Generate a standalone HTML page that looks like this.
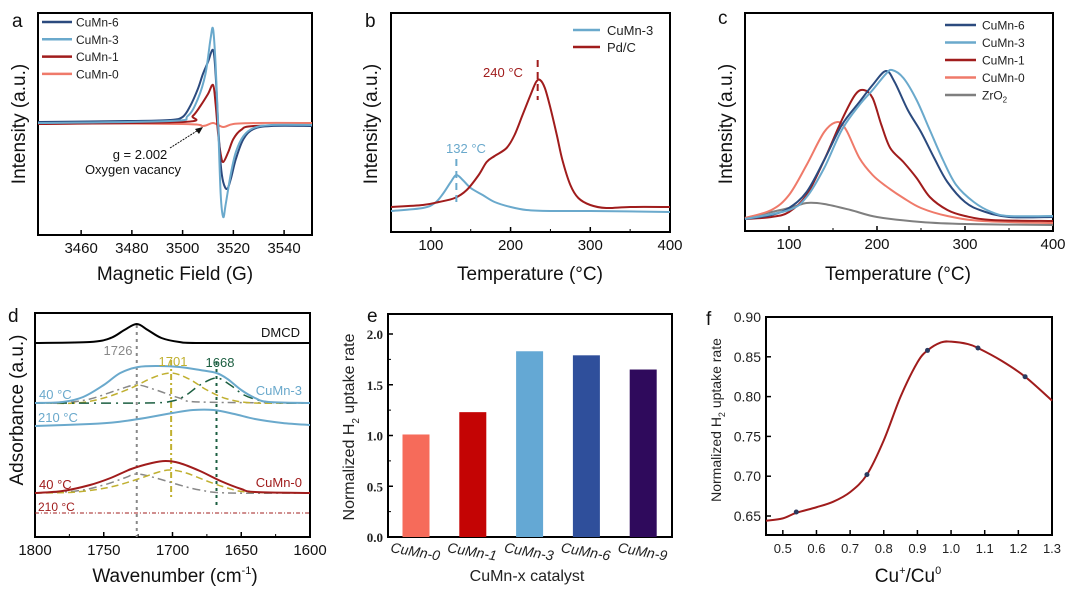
<!DOCTYPE html>
<html><head><meta charset="utf-8">
<style>
html,body{margin:0;padding:0;background:#fff;}
svg{display:block;font-family:"Liberation Sans",Arial,sans-serif;}
</style></head>
<body>
<svg id="fig" width="1077" height="591" viewBox="0 0 1077 591"></svg>
<script>
// ---------- Panel a: EPR ----------
const aSeriesNames=["CuMn-6","CuMn-3","CuMn-1","CuMn-0"];
const aColors=["#2b4a7e","#6aa9cc","#a01c1c","#ef7a6a"];
const aCuMn6=[[3443,2],[3480,3],[3495,4],[3500,7],[3503,18],[3506,35],[3508,50],[3510,62],[3512,74],[3513,50],[3514,0],[3515,-40],[3516,-58],[3517.5,-65],[3519,-55],[3521,-35],[3524,-15],[3528,-5],[3535,-2],[3551,-2]];
const aCuMn3=[[3443,1],[3495,3],[3502,8],[3506,25],[3509,50],[3511,85],[3512,95],[3513,60],[3514,0],[3515,-70],[3516,-93],[3517,-80],[3519,-50],[3521,-28],[3524,-12],[3528,-4],[3535,-1],[3551,-1]];
const aCuMn1=[[3443,0],[3500,2],[3504,8],[3507,18],[3510,30],[3512,39],[3513,20],[3514,-10],[3515,-30],[3516,-38],[3518,-28],[3520,-15],[3523,-6],[3528,-2],[3551,-1]];
const aCuMn0=[[3443,1],[3500,0],[3508,-2],[3512,1],[3516,-3],[3520,0],[3530,1],[3551,1]];
const aTicks=[3460,3480,3500,3520,3540];
// ---------- Panel b: H2-TPR ----------
const bSeriesNames=["CuMn-3","Pd/C"];
const bBlue=[[50,9],[90,12],[105,17],[115,26],[125,38],[132,45],[140,40],[150,32],[165,25],[180,18],[200,13],[220,10],[250,9],[300,9],[400,8]];
const bRed=[[50,13],[90,15],[110,18],[130,22],[145,30],[160,45],[170,58],[180,64],[195,72],[205,85],[215,105],[225,125],[232,138],[237,140],[243,132],[250,112],[258,85],[265,60],[275,35],[285,22],[300,15],[320,12],[350,13],[400,13]];
const tTicks=[100,200,300,400];
// ---------- Panel c ----------
const cSeriesNames=["CuMn-6","CuMn-3","CuMn-1","CuMn-0","ZrO2"];
const cColors=["#2b4a7e","#6aa9cc","#a01c1c","#ef7a6a","#7f7f7f"];
const cCuMn6=[[50,11],[80,15],[100,22],[120,38],[140,70],[160,105],[180,128],[195,145],[210,159],[220,148],[235,120],[250,98],[265,72],[280,48],[300,28],[320,19],[350,13],[400,13]];
const cCuMn3=[[50,11],[100,20],[120,33],[140,62],[160,100],[180,125],[195,140],[210,156],[217,160],[230,152],[245,130],[260,100],[275,70],[290,45],[310,28],[330,18],[350,14],[400,14]];
const cCuMn1=[[50,11],[80,13],[100,18],[120,35],[140,70],[160,110],[175,135],[185,140],[195,132],[205,105],[215,82],[230,68],[245,52],[260,33],[280,20],[300,14],[330,10],[400,9]];
const cCuMn0=[[50,12],[80,20],[100,35],[120,65],[140,98],[155,108],[165,100],[180,72],[195,55],[210,44],[230,32],[250,22],[280,14],[320,9],[400,7]];
const cZrO2=[[50,12],[100,22],[120,27],[140,26],[170,20],[200,13],[250,8],[300,6],[400,5]];
// ---------- Panel d: DRIFTS ----------
const dOffsets=[343,403,426,493,513];
const dDMCD=[[1800,0],[1760,1],[1745,5],[1735,13],[1726,19],[1718,13],[1708,5],[1695,1],[1680,0],[1600,0]];
const d3_40=[[1800,0],[1780,1],[1765,6],[1750,18],[1738,30],[1725,36],[1710,37],[1695,36],[1680,33],[1668,30],[1660,24],[1650,13],[1640,5],[1630,1],[1600,0]];
const d3_gray=[[1800,0],[1780,0],[1760,4],[1740,13],[1726,18],[1712,13],[1695,5],[1680,1],[1600,0]];
const d3_yel=[[1800,0],[1770,0],[1750,5],[1730,15],[1715,25],[1701,30],[1688,24],[1675,13],[1660,4],[1640,0],[1600,0]];
const d3_grn=[[1800,0],[1720,0],[1700,2],[1690,8],[1680,18],[1668,25],[1658,18],[1648,8],[1635,2],[1620,0],[1600,0]];
const d3_210=[[1800,0],[1760,2],[1740,4],[1720,8],[1700,13],[1685,16],[1670,16],[1655,12],[1640,7],[1620,3],[1600,1]];
const d0_40=[[1800,0],[1780,2],[1760,8],[1745,15],[1730,24],[1715,30],[1705,32],[1695,30],[1680,22],[1665,12],[1650,4],[1640,1],[1600,0]];
const d0_gray=[[1800,0],[1770,2],[1750,8],[1735,15],[1726,19],[1712,15],[1695,8],[1680,3],[1660,0],[1600,0]];
const d0_yel=[[1800,0],[1770,1],[1745,6],[1725,14],[1710,21],[1701,23],[1690,20],[1675,12],[1660,5],[1645,1],[1600,0]];
const d0_210=[[1800,0],[1600,0]];
const dPeaks=[1726,1701,1668];
const wTicks=[1800,1750,1700,1650,1600];
// ---------- Panel e: bars ----------
const eCategories=["CuMn-0","CuMn-1","CuMn-3","CuMn-6","CuMn-9"];
const eValues=[1.01,1.23,1.83,1.79,1.65];
const eColors=["#f66b5a","#c40404","#64a8d4","#2f4f9b","#2f0a5c"];
const eTicks=[0.0,0.5,1.0,1.5,2.0];
// ---------- Panel f ----------
const fX=[0.54,0.75,0.93,1.08,1.22];
const fY=[0.655,0.702,0.858,0.861,0.825];
const fFitX=[0.45,0.5,0.54,0.6,0.65,0.7,0.75,0.8,0.85,0.9,0.93,0.97,1.0,1.05,1.08,1.15,1.22,1.3];
const fFitY=[0.644,0.647,0.654,0.661,0.668,0.680,0.702,0.745,0.800,0.843,0.858,0.868,0.869,0.866,0.861,0.845,0.825,0.795];
const fXTicks=[0.5,0.6,0.7,0.8,0.9,1.0,1.1,1.2,1.3];
const fYTicks=[0.65,0.70,0.75,0.80,0.85,0.90];

const NS="http://www.w3.org/2000/svg";
const svg=document.getElementById('fig');
function el(tag,attrs,parent,text){const e=document.createElementNS(NS,tag);for(const k in attrs)e.setAttribute(k,attrs[k]);if(text!==undefined)e.textContent=text;(parent||svg).appendChild(e);return e;}
function lin(d0,d1,r0,r1){return v=>r0+(v-d0)*(r1-r0)/(d1-d0);}
function smooth(pts){let d=`M${pts[0][0].toFixed(2)},${pts[0][1].toFixed(2)}`;for(let i=0;i<pts.length-1;i++){const p0=pts[i-1]||pts[i],p1=pts[i],p2=pts[i+1],p3=pts[i+2]||p2;const c1=[p1[0]+(p2[0]-p0[0])/6,p1[1]+(p2[1]-p0[1])/6],c2=[p2[0]-(p3[0]-p1[0])/6,p2[1]-(p3[1]-p1[1])/6];d+=`C${c1[0].toFixed(2)},${c1[1].toFixed(2)} ${c2[0].toFixed(2)},${c2[1].toFixed(2)} ${p2[0].toFixed(2)},${p2[1].toFixed(2)}`;}return d;}
function curve(data,xs,ys,attrs,name,g){const p=el('path',Object.assign({d:smooth(data.map(q=>[xs(q[0]),ys(q[1])])),fill:'none'},attrs),g);


return p;}
function txt(x,y,s,attrs,name,g){const t=el('text',Object.assign({x:x,y:y},attrs),g,s);


return t;}
function frame(x0,y0,x1,y1,name,g){const r=el('rect',{x:x0,y:y0,width:x1-x0,height:y1-y0,fill:'none',stroke:'#000','stroke-width':2},g);

}
function group(name){const g=el('g',{});


return g;}
function xTicks(ticks,xs,yb,g,fs,lab,minor){ticks.forEach(t=>{el('line',{x1:xs(t),x2:xs(t),y1:yb,y2:yb-5,stroke:'#000','stroke-width':1.5},g);if(lab)txt(xs(t),yb+fs+3,lab(t),{'font-size':fs,'text-anchor':'middle',fill:'#111'},'x-tick-label',g);});}

// ===== Panel a =====
(function(){const g=group('panel-a-epr');
const xs=lin(3443,3551,38,312), ys=lin(-111,111,235,13);
frame(38,13,312,235,'plot-frame',g);
xTicks(aTicks,xs,235,g,15,t=>t);
[aCuMn0,aCuMn1,aCuMn6,aCuMn3].forEach((d,i)=>{const idx=[3,2,0,1][i];curve(d,xs,ys,{stroke:aColors[idx],'stroke-width':2},'epr-'+aSeriesNames[idx].toLowerCase(),g);});
aSeriesNames.forEach((n,i)=>{const y=22+i*17.3;el('line',{x1:42,x2:72,y1:y,y2:y,stroke:aColors[i],'stroke-width':2.5},g);txt(76,y+4.5,n,{'font-size':12,fill:'#222'},'legend-entry',g);});
txt(140,159,'g = 2.002',{'font-size':13,'text-anchor':'middle',fill:'#111'},'g-value-annotation',g);
txt(133,174,'Oxygen vacancy',{'font-size':13,'text-anchor':'middle',fill:'#111'},'oxygen-vacancy-label',g);
el('line',{x1:170,y1:148,x2:200,y2:129,stroke:'#111','stroke-width':1,'stroke-dasharray':'2,1'},g);
el('path',{d:'M203,127 L195,129 L199,134 Z',fill:'#111'},g);
txt(175,280,'Magnetic Field (G)',{'font-size':19,'text-anchor':'middle',fill:'#111'},'x-axis-title',g);
txt(0,0,'Intensity (a.u.)',{'font-size':19,'text-anchor':'middle',fill:'#111',transform:'translate(25,124) rotate(-90)'},'y-axis-title',g);
txt(12,27,'a',{'font-size':19,fill:'#111'},'panel-label',g);
})();

// ===== Panel b =====
(function(){const g=group('panel-b-tpr');
const xs=lin(50,400,391,670), ys=lin(0,220,220,0);
frame(391,13,670,232,'plot-frame',g);
xTicks(tTicks,xs,232,g,15,t=>t);[150,250,350].forEach(t=>el('line',{x1:xs(t),x2:xs(t),y1:232,y2:229,stroke:'#000'},g));
curve(bBlue,xs,ys,{stroke:'#6aa9cc','stroke-width':2},'tpr-cumn-3',g);
curve(bRed,xs,ys,{stroke:'#a01c1c','stroke-width':2},'tpr-pd-c',g);
el('line',{x1:xs(234),x2:xs(234),y1:60,y2:100,stroke:'#a01c1c','stroke-width':2,'stroke-dasharray':'7,5'},g);
el('line',{x1:xs(132),x2:xs(132),y1:159,y2:205,stroke:'#6aa9cc','stroke-width':2,'stroke-dasharray':'7,5'},g);
txt(503,77,'240 °C',{'font-size':13,'text-anchor':'middle',fill:'#a01c1c'},'peak-label-240',g);
txt(466,153,'132 °C',{'font-size':13,'text-anchor':'middle',fill:'#6aa9cc'},'peak-label-132',g);
[['#6aa9cc',30],['#a01c1c',47]].forEach((c,i)=>{el('line',{x1:573,x2:600,y1:c[1],y2:c[1],stroke:c[0],'stroke-width':2.5},g);txt(607,c[1]+5,bSeriesNames[i],{'font-size':13,fill:'#222'},'legend-entry',g);});
txt(530,280,'Temperature (°C)',{'font-size':19,'text-anchor':'middle',fill:'#111'},'x-axis-title',g);
txt(0,0,'Intensity (a.u.)',{'font-size':19,'text-anchor':'middle',fill:'#111',transform:'translate(377,124) rotate(-90)'},'y-axis-title',g);
txt(365,27,'b',{'font-size':19,fill:'#111'},'panel-label',g);
})();

// ===== Panel c =====
(function(){const g=group('panel-c-tpr');
const xs=lin(50,400,745,1053), ys=lin(0,230,230,0);
frame(745,13,1053,231,'plot-frame',g);
xTicks(tTicks,xs,231,g,15,t=>t);[150,250,350].forEach(t=>el('line',{x1:xs(t),x2:xs(t),y1:231,y2:228,stroke:'#000'},g));
[[cZrO2,4],[cCuMn0,3],[cCuMn1,2],[cCuMn6,0],[cCuMn3,1]].forEach(a=>curve(a[0],xs,ys,{stroke:cColors[a[1]],'stroke-width':2},'tpr-'+cSeriesNames[a[1]].toLowerCase(),g));
cSeriesNames.forEach((n,i)=>{const y=25+i*17.5;el('line',{x1:945,x2:976,y1:y,y2:y,stroke:cColors[i],'stroke-width':2.5},g);const t=txt(982,y+4.5,'',{'font-size':12,fill:'#222'},'legend-entry',g);if(n==='ZrO2'){el('tspan',{},t,'ZrO');el('tspan',{'font-size':8,dy:3},t,'2');}else t.textContent=n;});
txt(898,280,'Temperature (°C)',{'font-size':19,'text-anchor':'middle',fill:'#111'},'x-axis-title',g);
txt(0,0,'Intensity (a.u.)',{'font-size':19,'text-anchor':'middle',fill:'#111',transform:'translate(732,124) rotate(-90)'},'y-axis-title',g);
txt(718,24,'c',{'font-size':19,fill:'#111'},'panel-label',g);
})();

// ===== Panel d =====
(function(){const g=group('panel-d-drifts');
const xs=lin(1800,1600,35,310);
const yo=o=>(v=>o-v);
frame(35,313,310,537,'plot-frame',g);
xTicks(wTicks,xs,537,g,15,t=>t);[1775,1725,1675,1625].forEach(t=>el('line',{x1:xs(t),x2:xs(t),y1:537,y2:534,stroke:'#000'},g));
const dPeakColors=['#888','#c0b030','#1b5e40'];
dPeaks.forEach((p,i)=>{const y1=[325,360,362][i],y2=[537,500,505][i];el('line',{x1:xs(p),x2:xs(p),y1:y1,y2:y2,stroke:dPeakColors[i],'stroke-width':2,'stroke-dasharray':i==1?'6,3,2,3':'3,4'},g);});
curve(dDMCD,xs,yo(dOffsets[0]),{stroke:'#000','stroke-width':2},'dmcd-spectrum',g);
curve(d3_gray,xs,yo(dOffsets[1]),{stroke:'#888','stroke-width':1.5,'stroke-dasharray':'8,4,2,4'},'cumn3-fit-1726',g);
curve(d3_yel,xs,yo(dOffsets[1]),{stroke:'#c0b030','stroke-width':1.5,'stroke-dasharray':'7,4'},'cumn3-fit-1701',g);
curve(d3_grn,xs,yo(dOffsets[1]),{stroke:'#1b5e40','stroke-width':1.5,'stroke-dasharray':'10,5,2,5'},'cumn3-fit-1668',g);
curve(d3_40,xs,yo(dOffsets[1]),{stroke:'#6aa9cc','stroke-width':2},'cumn3-40c',g);
curve(d3_210,xs,yo(dOffsets[2]),{stroke:'#6aa9cc','stroke-width':2},'cumn3-210c',g);
curve(d0_gray,xs,yo(dOffsets[3]),{stroke:'#888','stroke-width':1.5,'stroke-dasharray':'8,4,2,4'},'cumn0-fit-1726',g);
curve(d0_yel,xs,yo(dOffsets[3]),{stroke:'#c0b030','stroke-width':1.5,'stroke-dasharray':'7,4'},'cumn0-fit-1701',g);
curve(d0_40,xs,yo(dOffsets[3]),{stroke:'#a01c1c','stroke-width':2},'cumn0-40c',g);
curve(d0_210,xs,yo(dOffsets[4]),{stroke:'#a01c1c','stroke-width':1,'stroke-dasharray':'4,2,1,2'},'cumn0-210c',g);
txt(300,337,'DMCD',{'font-size':13,'text-anchor':'end',fill:'#111'},'dmcd-label',g);
txt(118,355,'1726',{'font-size':13,'text-anchor':'middle',fill:'#888'},'peak-1726',g);
txt(173,366,'1701',{'font-size':13,'text-anchor':'middle',fill:'#c0b030'},'peak-1701',g);
txt(220,367,'1668',{'font-size':13,'text-anchor':'middle',fill:'#1b5e40'},'peak-1668',g);
txt(39,399,'40 °C',{'font-size':13,fill:'#6aa9cc'},'cumn3-40c-label',g);
txt(302,395,'CuMn-3',{'font-size':13,'text-anchor':'end',fill:'#6aa9cc'},'cumn3-label',g);
txt(38,422,'210 °C',{'font-size':13,fill:'#6aa9cc'},'cumn3-210c-label',g);
txt(39,489,'40 °C',{'font-size':13,fill:'#a01c1c'},'cumn0-40c-label',g);
txt(302,487,'CuMn-0',{'font-size':13,'text-anchor':'end',fill:'#a01c1c'},'cumn0-label',g);
txt(38,511,'210 °C',{'font-size':12,fill:'#a01c1c'},'cumn0-210c-label',g);
const t=txt(175,582,'Wavenumber (cm',{'font-size':19,'text-anchor':'middle',fill:'#111'},'x-axis-title',g);el('tspan',{'font-size':11,dy:-8},t,'-1');el('tspan',{dy:8},t,')');
txt(0,0,'Adsorbance (a.u.)',{'font-size':19,'text-anchor':'middle',fill:'#111',transform:'translate(23,410) rotate(-90)'},'y-axis-title',g);
txt(8,322,'d',{'font-size':19,fill:'#111'},'panel-label',g);
})();

// ===== Panel e =====
(function(){const g=group('panel-e-bars');
const ys=lin(0,2.0,537,334), bw=27;
const xs=i=>416+i*56.8;
frame(388,314,672,537,'plot-frame',g);
eTicks.forEach(t=>{el('line',{x1:388,x2:393,y1:ys(t),y2:ys(t),stroke:'#000','stroke-width':1.5},g);txt(383,ys(t)+5,t.toFixed(1),{'font-size':13,'font-weight':'bold','text-anchor':'end',fill:'#222','font-family':'Liberation Serif,serif'},'y-tick-label',g);});
[0.25,0.75,1.25,1.75].forEach(t=>el('line',{x1:388,x2:391,y1:ys(t),y2:ys(t),stroke:'#000'},g));
eValues.forEach((v,i)=>{const r=el('rect',{x:xs(i)-bw/2,y:ys(v),width:bw,height:ys(0)-ys(v),fill:eColors[i]},g);


txt(0,0,eCategories[i],{'font-size':14,'font-style':'italic',fill:'#222',transform:`translate(${xs(i)-26},${552}) rotate(10)`},'x-tick-label',g);});
txt(527,581,'CuMn-x catalyst',{'font-size':16,'text-anchor':'middle',fill:'#222'},'x-axis-title',g);
const t=txt(0,0,'Normalized H',{'font-size':16,'text-anchor':'middle',fill:'#222',transform:'translate(354,427) rotate(-90)'},'y-axis-title',g);el('tspan',{'font-size':10,dy:5},t,'2');el('tspan',{dy:-5},t,' uptake rate');
txt(367,322,'e',{'font-size':19,fill:'#111'},'panel-label',g);
})();

// ===== Panel f =====
(function(){const g=group('panel-f-fit');
const xs=lin(0.45,1.3,766,1052), ys=lin(0.65,0.90,516,317);
frame(766,317,1052,535,'plot-frame',g);
fXTicks.forEach(t=>{el('line',{x1:xs(t),x2:xs(t),y1:535,y2:530,stroke:'#000','stroke-width':1.5},g);txt(xs(t),553,t.toFixed(1),{'font-size':13,'text-anchor':'middle',fill:'#222'},'x-tick-label',g);});
fYTicks.forEach(t=>{el('line',{x1:766,x2:771,y1:ys(t),y2:ys(t),stroke:'#000','stroke-width':1.5},g);txt(761,ys(t)+5,t.toFixed(2),{'font-size':14,'text-anchor':'end',fill:'#222'},'y-tick-label',g);});
curve(fFitX.map((x,i)=>[x,fFitY[i]]),xs,ys,{stroke:'#a01c1c','stroke-width':2},'fit-curve',g);
fX.forEach((x,i)=>{const c=el('circle',{cx:xs(x),cy:ys(fY[i]),r:2.5,fill:'#2b3a5e'},g);

});
const t=txt(908,582,'Cu',{'font-size':19,'text-anchor':'middle',fill:'#111'},'x-axis-title',g);el('tspan',{'font-size':11,dy:-8},t,'+');el('tspan',{dy:8},t,'/Cu');el('tspan',{'font-size':11,dy:-8},t,'0');
const y=txt(0,0,'Normalized H',{'font-size':14,'text-anchor':'middle',fill:'#222',transform:'translate(721,420) rotate(-90)'},'y-axis-title',g);el('tspan',{'font-size':9,dy:4},y,'2');el('tspan',{dy:-4},y,' uptake rate');
txt(706,325,'f',{'font-size':19,fill:'#111'},'panel-label',g);
})();
</script>
</body></html>
